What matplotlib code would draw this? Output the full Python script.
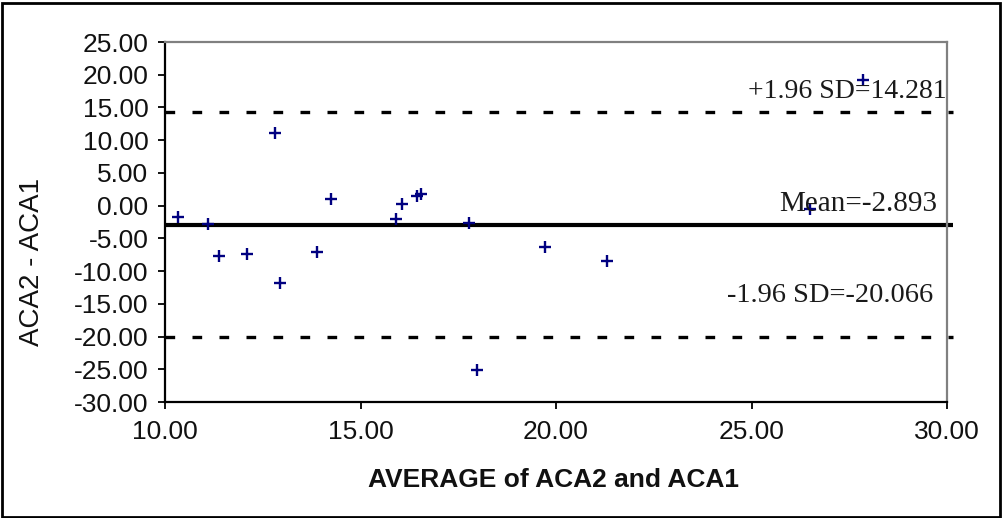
import matplotlib
matplotlib.use("Agg")
import matplotlib.pyplot as plt
from matplotlib.patches import Rectangle

# ---- data ----
avg_values = [10.32, 11.11, 11.38, 12.10, 12.81, 12.93, 13.88, 14.24, 15.90,
              16.07, 16.44, 16.56, 17.77, 17.97, 19.71, 21.31, 26.50, 27.86]
diff_values = [-1.74, -2.86, -7.70, -7.39, 11.05, -11.87, -7.14, 0.96, -2.04,
               0.20, 1.52, 1.83, -2.60, -25.10, -6.27, -8.51, -0.52, 19.19]
mean_diff = -2.893
upper_loa = 14.281
lower_loa = -20.066
x_ticks = [10, 15, 20, 25, 30]
y_ticks = [25, 20, 15, 10, 5, 0, -5, -10, -15, -20, -25, -30]
x_label = "AVERAGE of ACA2 and ACA1"
y_label = "ACA2 - ACA1"
label_upper = "+1.96 SD=14.281"
label_mean = "Mean=-2.893"
label_lower = "-1.96 SD=-20.066"

W, H = 1002, 518
fig = plt.figure(figsize=(W / 100, H / 100), dpi=100)
ax = fig.add_axes([165 / W, 1 - 402 / H, (947 - 165) / W, (402 - 42) / H])

ax.set_xlim(10, 30)
ax.set_ylim(-30, 25)

# reference lines (extend slightly past the right spine)
x_end = 30.15
ax.plot([10, x_end], [mean_diff, mean_diff], color="black", lw=3.0,
        solid_capstyle="butt", clip_on=False, zorder=2)
for v in (upper_loa, lower_loa):
    ax.plot([10, x_end], [v, v], color="black", lw=2.4,
            dashes=(2.9, 5.2), dash_capstyle="butt", clip_on=False, zorder=2)

# points
ax.plot(avg_values, diff_values, linestyle="none", marker="+",
        markersize=9, markeredgewidth=1.7, color="#000080", zorder=3,
        clip_on=False)

# spines
for s in ("left", "bottom"):
    ax.spines[s].set_color("black")
    ax.spines[s].set_linewidth(1.6)
for s in ("top", "right"):
    ax.spines[s].set_color("#808080")
    ax.spines[s].set_linewidth(1.6)

ax.set_xticks(x_ticks)
ax.set_xticklabels([f"{v:.2f}" for v in x_ticks])
ax.set_yticks(y_ticks)
ax.set_yticklabels([f"{v:.2f}" for v in y_ticks])
ax.tick_params(axis="both", direction="out", length=5, width=1.3, color="black")
ax.tick_params(axis="x", pad=8)
ax.tick_params(axis="y", pad=7)
for lab in ax.get_xticklabels() + ax.get_yticklabels():
    lab.set_fontfamily("Liberation Sans")
    lab.set_fontsize(19)
    lab.set_color("#111111")

# axis labels
fig.text(553 / W, 1 - 487 / H, x_label, ha="center", va="baseline",
         fontfamily="Liberation Sans", fontweight="bold", fontsize=19,
         color="#111111")
fig.text(32 / W, 1 - 262 / H, y_label, ha="center", va="center", rotation=90,
         fontfamily="Liberation Sans", fontsize=20, color="#111111")

# annotations
ann_kw = dict(fontfamily="Liberation Serif", color="#1a1a1a",
              va="baseline", ha="right", transform=fig.transFigure)
fig.text(947 / W, 1 - 98 / H, label_upper, fontsize=20, **ann_kw)
fig.text(937 / W, 1 - 211 / H, label_mean, fontsize=21, **ann_kw)
fig.text(933 / W, 1 - 302 / H, label_lower, fontsize=20.5, **ann_kw)

# outer frame
fig.patches.append(Rectangle((2 / W, 1 / H), (W - 4) / W, (H - 4) / H,
                             transform=fig.transFigure, fill=False,
                             edgecolor="black", linewidth=2.0))

fig.savefig("out.png", dpi=100)
